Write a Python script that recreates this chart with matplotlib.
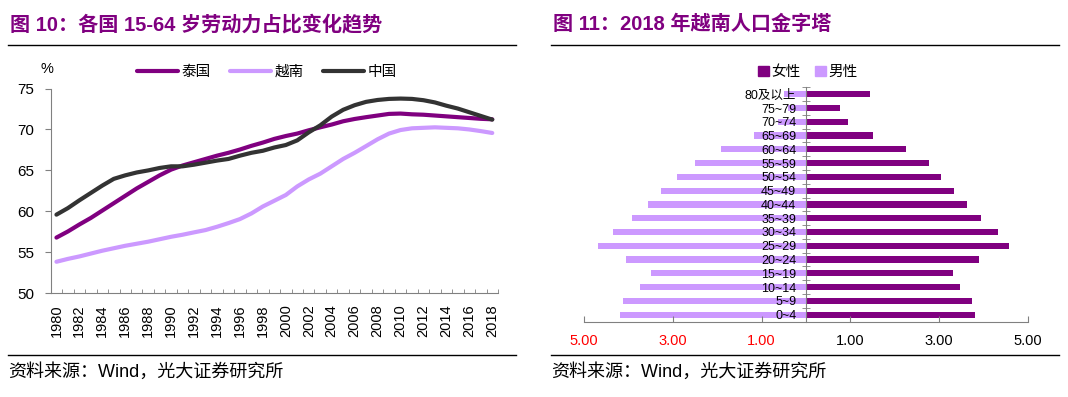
import matplotlib
matplotlib.use("Agg")
import matplotlib.pyplot as plt
from matplotlib.lines import Line2D
from matplotlib.patches import Patch
from matplotlib.ticker import FixedLocator, NullFormatter

plt.rcParams["font.family"] = ["Liberation Sans", "Noto Sans CJK SC"]

# ---- data: working-age (15-64) share, %
years = list(range(1980, 2019))
thailand = [56.8, 57.55, 58.4, 59.2, 60.1, 61.0, 61.9, 62.8, 63.6, 64.4,
            65.1, 65.6, 66.0, 66.4, 66.8, 67.15, 67.55, 68.0, 68.4, 68.85,
            69.2, 69.5, 69.9, 70.26, 70.6, 71.0, 71.28, 71.5, 71.7, 71.9,
            71.94, 71.85, 71.8, 71.7, 71.6, 71.5, 71.4, 71.3, 71.24]
vietnam = [53.85, 54.2, 54.5, 54.85, 55.2, 55.5, 55.8, 56.05, 56.3, 56.6,
           56.9, 57.15, 57.44, 57.72, 58.12, 58.57, 59.06, 59.75, 60.6, 61.3,
           62.0, 63.05, 63.9, 64.6, 65.5, 66.4, 67.15, 67.97, 68.8, 69.5,
           69.93, 70.14, 70.2, 70.26, 70.2, 70.14, 70.0, 69.8, 69.57]
china = [59.6, 60.4, 61.35, 62.25, 63.15, 63.97, 64.4, 64.75, 65.0, 65.3,
         65.5, 65.5, 65.7, 65.95, 66.2, 66.4, 66.8, 67.15, 67.4, 67.8,
         68.1, 68.67, 69.65, 70.5, 71.57, 72.4, 72.96, 73.37, 73.6, 73.73,
         73.77, 73.73, 73.57, 73.3, 72.9, 72.55, 72.1, 71.65, 71.2]

# ---- data: Vietnam 2018 population pyramid, % (bottom to top)
ages = ["0~4", "5~9", "10~14", "15~19", "20~24", "25~29", "30~34", "35~39",
        "40~44", "45~49", "50~54", "55~59", "60~64", "65~69", "70~74",
        "75~79", "80及以上"]
female = [3.81, 3.74, 3.46, 3.32, 3.90, 4.57, 4.33, 3.95, 3.62, 3.33,
          3.03, 2.76, 2.26, 1.51, 0.94, 0.76, 1.45]
male = [4.19, 4.13, 3.73, 3.49, 4.06, 4.69, 4.35, 3.91, 3.55, 3.26,
        2.90, 2.50, 1.91, 1.16, 0.62, 0.40, 0.50]
pyr_ticks = [-5, -3, -1, 1, 3, 5]
pyr_ticklabels = ["5.00", "3.00", "1.00", "1.00", "3.00", "5.00"]

PURPLE = "#800080"
LILAC = "#CC99FF"
DARK = "#333333"
GREY = "#808080"

W, H = 1068, 397
fig = plt.figure(figsize=(W / 100, H / 100), dpi=100)


def px(x0, y0, x1, y1):
    return [x0 / W, 1 - y1 / H, (x1 - x0) / W, (y1 - y0) / H]


# ---------------- left chart
ax = fig.add_axes(px(50.7, 88.5, 498, 293.3))
ax.plot(years, thailand, color=PURPLE, lw=3, label="泰国", solid_capstyle="round")
ax.plot(years, vietnam, color=LILAC, lw=3, label="越南", solid_capstyle="round")
ax.plot(years, china, color=DARK, lw=3, label="中国", solid_capstyle="round")
ax.set_xlim(years[0] - 0.5, years[-1] + 0.5)
ax.set_ylim(50, 75)
ax.set_yticks(range(50, 76, 5))
ax.set_xticks(years[::2])
ax.set_xticklabels([str(y) for y in years[::2]], rotation=90)
ax.xaxis.set_minor_locator(FixedLocator([y - 0.5 for y in years] + [years[-1] + 0.5]))
ax.tick_params(axis="x", which="major", length=0, pad=8, labelsize=10.5)
ax.tick_params(axis="x", which="minor", direction="in", length=3, color=GREY)
ax.tick_params(axis="y", direction="out", length=4, color=GREY, pad=8, labelsize=11)
for s in ("top", "right"):
    ax.spines[s].set_visible(False)
for s in ("left", "bottom"):
    ax.spines[s].set_color(GREY)
fig.text(47 / W, 1 - 69 / H, "%", fontsize=10.5, ha="center", va="center")
fig.legend(*ax.get_legend_handles_labels(), loc="center", ncol=3,
           bbox_to_anchor=(267 / W, 1 - 72 / H), frameon=False, fontsize=10.5,
           handlelength=2.8, handletextpad=0.25, columnspacing=1.3)

# ---------------- right chart
ax2 = fig.add_axes(px(584, 87.4, 1028, 321.5))
pos = list(range(len(ages)))
ax2.barh(pos, female, height=0.45, color=PURPLE, label="女性")
ax2.barh(pos, [-m for m in male], height=0.45, color=LILAC, label="男性")
ax2.set_xlim(-5, 5)
ax2.set_ylim(-0.5, len(ages) - 0.5)
ax2.spines["left"].set_position(("data", 0))
for s in ("top", "right"):
    ax2.spines[s].set_visible(False)
for s in ("left", "bottom"):
    ax2.spines[s].set_color(GREY)
ax2.set_yticks(pos)
ax2.set_yticklabels(ages)
ax2.yaxis.set_minor_locator(FixedLocator([p + 0.5 for p in pos] + [-0.5]))
ax2.yaxis.set_minor_formatter(NullFormatter())
ax2.tick_params(axis="y", which="major", length=0, pad=7, labelsize=9)
ax2.tick_params(axis="y", which="minor", direction="inout", length=6, color=GREY)
ax2.set_xticks(pyr_ticks)
ax2.set_xticklabels(pyr_ticklabels)
ax2.tick_params(axis="x", direction="in", length=4, color=GREY, pad=9, labelsize=10.5)
for t, v in zip(ax2.get_xticklabels(), pyr_ticks):
    t.set_color("#FF0000" if v < 0 else "black")
fig.legend(handles=[Patch(color=PURPLE, label="女性"), Patch(color=LILAC, label="男性")],
           loc="center", ncol=2, bbox_to_anchor=(808 / W, 1 - 72 / H), frameon=False,
           fontsize=10.5, handlelength=0.7, handleheight=0.7, handletextpad=0.2,
           columnspacing=1.0)

# ---------------- titles, rules, sources
for x0, x1, title in [(8, 516, "图 10：各国 15-64 岁劳动力占比变化趋势"),
                      (551, 1059, "图 11：2018 年越南人口金字塔")]:
    fig.text((x0 + 2) / W, 1 - 24 / H, title, fontsize=14.5, weight="bold",
             color=PURPLE, va="center", ha="left")
    fig.add_artist(Line2D([x0 / W, x1 / W], [1 - 45 / H] * 2, color="black", lw=1))
    fig.add_artist(Line2D([x0 / W, x1 / W], [1 - 355 / H] * 2, color="black", lw=1))
    fig.text(x0 / W, 1 - 372 / H, "资料来源：Wind，光大证券研究所", fontsize=13,
             va="center", ha="left")

fig.savefig("out.png", dpi=100)
